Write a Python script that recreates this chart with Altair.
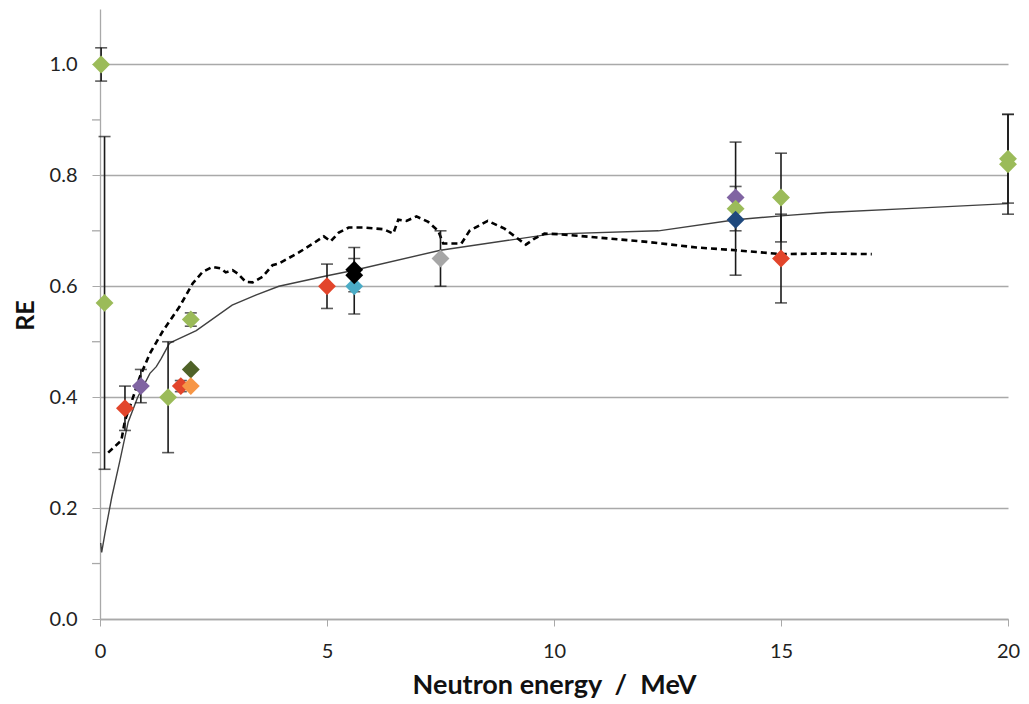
import altair as alt
import pandas as pd

# ---- data ----
pt_x = [0.025, 0.1, 0.55, 0.9, 1.5, 2.0, 2.0, 1.78, 2.0, 5.0, 5.6, 5.6, 5.6, 7.5, 14.0, 14.0, 14.0, 15.0, 15.0, 20.0, 20.0]
pt_y = [1.00, 0.57, 0.38, 0.42, 0.40, 0.54, 0.45, 0.42, 0.42, 0.60, 0.60, 0.62, 0.63, 0.65, 0.76, 0.74, 0.72, 0.76, 0.65, 0.83, 0.82]
pt_color = ["#9BBB59", "#9BBB59", "#E2452B", "#8064A2", "#9BBB59", "#9BBB59", "#4F6228", "#E2452B", "#F79646",
            "#E2452B", "#4BACC6", "#000000", "#000000", "#A6A6A6", "#8064A2", "#9BBB59", "#1F497D",
            "#9BBB59", "#E2452B", "#9BBB59", "#9BBB59"]

eb_x = [0.025, 0.1, 0.55, 0.9, 1.5, 2.0, 1.78, 5.0, 5.6, 5.6, 7.5, 14.0, 14.0, 15.0, 15.0, 20.0, 20.0]
eb_lo = [0.97, 0.27, 0.34, 0.39, 0.30, 0.528, 0.41, 0.56, 0.55, 0.59, 0.60, 0.62, 0.70, 0.68, 0.57, 0.75, 0.73]
eb_hi = [1.03, 0.87, 0.42, 0.45, 0.50, 0.552, 0.43, 0.64, 0.65, 0.67, 0.70, 0.86, 0.78, 0.84, 0.73, 0.91, 0.91]

calc_x = [0.015, 0.037, 0.11, 0.26, 0.44, 0.62, 0.83, 1.1, 1.24, 1.35, 1.53, 1.6, 2.12, 2.91, 3.43, 3.94,
          5.0, 5.6, 7.5, 9.92, 12.3, 14.0, 15.0, 16.0, 18.0, 20.0]
calc_y = [0.137, 0.12, 0.155, 0.22, 0.286, 0.355, 0.40, 0.443, 0.455, 0.47, 0.497, 0.50, 0.52, 0.566, 0.584, 0.60,
          0.619, 0.629, 0.665, 0.694, 0.70, 0.72, 0.727, 0.733, 0.741, 0.749]

meas_x = [0.18, 0.47, 0.55, 0.73, 0.88, 1.1, 1.39, 1.75, 2.04, 2.26, 2.48, 2.67, 2.77, 2.92, 3.03, 3.21, 3.36,
          3.58, 3.8, 3.94, 4.38, 4.73, 4.93, 5.08, 5.26, 5.48, 5.8, 6.24, 6.46, 6.57, 6.75, 6.97, 7.23, 7.45,
          7.56, 7.96, 8.14, 8.54, 8.91, 9.2, 9.38, 9.57, 9.79, 10.08, 10.95, 12.05, 13.14, 14.0, 15.0, 16.0, 17.0]
meas_y = [0.30, 0.322, 0.358, 0.40, 0.437, 0.479, 0.52, 0.563, 0.605, 0.626, 0.635, 0.632, 0.625, 0.629, 0.623,
          0.608, 0.607, 0.617, 0.638, 0.641, 0.661, 0.679, 0.69, 0.681, 0.697, 0.706, 0.706, 0.703, 0.695,
          0.72, 0.718, 0.726, 0.716, 0.70, 0.677, 0.677, 0.70, 0.718, 0.704, 0.686, 0.675, 0.686, 0.695,
          0.694, 0.688, 0.68, 0.67, 0.665, 0.658, 0.659, 0.658]

minor_y = [0.1, 0.3, 0.5, 0.7, 0.9]

x_title = "Neutron energy\u00a0\u00a0/\u00a0\u00a0MeV"

pts = pd.DataFrame({"x": pt_x, "y": pt_y, "c": pt_color})
ebs = pd.DataFrame({"x": eb_x, "lo": eb_lo, "hi": eb_hi})
calc = pd.DataFrame({"x": calc_x, "y": calc_y})
meas = pd.DataFrame({"x": meas_x, "y": meas_y})
minor = pd.DataFrame({"y": minor_y})

FONT = "Lato"
GRID = "#A9A9A9"

xscale = alt.Scale(domain=[0, 20], nice=False, zero=False)
yscale = alt.Scale(domain=[0, 1.1], nice=False)

xaxis = alt.Axis(values=[0, 5, 10, 15, 20], grid=False, tickSize=7, tickColor=GRID, domainColor=GRID,
                 domainWidth=1.3, labelFont=FONT, labelFontSize=20, labelColor="#222222",
                 labelBaseline="alphabetic", labelPadding=31, labelFlush=False, title=x_title,
                 titleFont=FONT, titleFontSize=27, titleFontWeight="bold", titleColor="#111111",
                 titleY=74, titleBaseline="alphabetic")
yaxis = alt.Axis(values=[0, 0.2, 0.4, 0.6, 0.8, 1.0], format=".1f", grid=True, gridColor=GRID, gridWidth=1.3,
                 tickSize=8, tickColor=GRID, domainColor=GRID, domainWidth=1.3, labelFont=FONT,
                 labelFontSize=20, labelColor="#222222", labelPadding=15, labelFlush=False, title="RE",
                 titleFont=FONT, titleFontSize=25, titleFontWeight="bold", titleColor="#111111",
                 titleX=-67, titleY=306, titleAngle=270, titleBaseline="alphabetic", titleAlign="center")

minor_ticks = alt.Chart(minor).mark_rule(color=GRID, strokeWidth=1.3).encode(
    y=alt.Y("y:Q", scale=yscale, axis=yaxis), x=alt.value(-8), x2=alt.value(0))

calc_line = alt.Chart(calc).mark_line(color="#404040", strokeWidth=1.4).encode(
    x=alt.X("x:Q", scale=xscale, axis=xaxis), y=alt.Y("y:Q", scale=yscale), order="x:Q")

meas_line = alt.Chart(meas).mark_line(color="#000000", strokeWidth=2.6, strokeDash=[6, 4]).encode(
    x=alt.X("x:Q", scale=xscale), y=alt.Y("y:Q", scale=yscale), order="x:Q")

eb_rule = alt.Chart(ebs).mark_rule(color="#1a1a1a", strokeWidth=1.6).encode(
    x=alt.X("x:Q", scale=xscale), y=alt.Y("lo:Q", scale=yscale), y2="hi:Q")
eb_cap_lo = alt.Chart(ebs).mark_tick(color="#1a1a1a", orient="horizontal", size=12, thickness=1.6).encode(
    x=alt.X("x:Q", scale=xscale), y=alt.Y("lo:Q", scale=yscale))
eb_cap_hi = alt.Chart(ebs).mark_tick(color="#1a1a1a", orient="horizontal", size=12, thickness=1.6).encode(
    x=alt.X("x:Q", scale=xscale), y=alt.Y("hi:Q", scale=yscale))

points = alt.Chart(pts).mark_point(shape="diamond", filled=True, size=320, opacity=1, strokeWidth=0).encode(
    x=alt.X("x:Q", scale=xscale), y=alt.Y("y:Q", scale=yscale), color=alt.Color("c:N", scale=None))

chart = alt.layer(minor_ticks, calc_line, meas_line, eb_rule, eb_cap_lo, eb_cap_hi, points).properties(
    width=908, height=610, autosize=alt.AutoSizeParams(type="none"),
    padding={"left": 92, "top": 1, "right": 13, "bottom": 84},
    background="white",
).configure_view(stroke=None)

chart.save("out.html", embed_options={"renderer": "svg", "actions": False})
